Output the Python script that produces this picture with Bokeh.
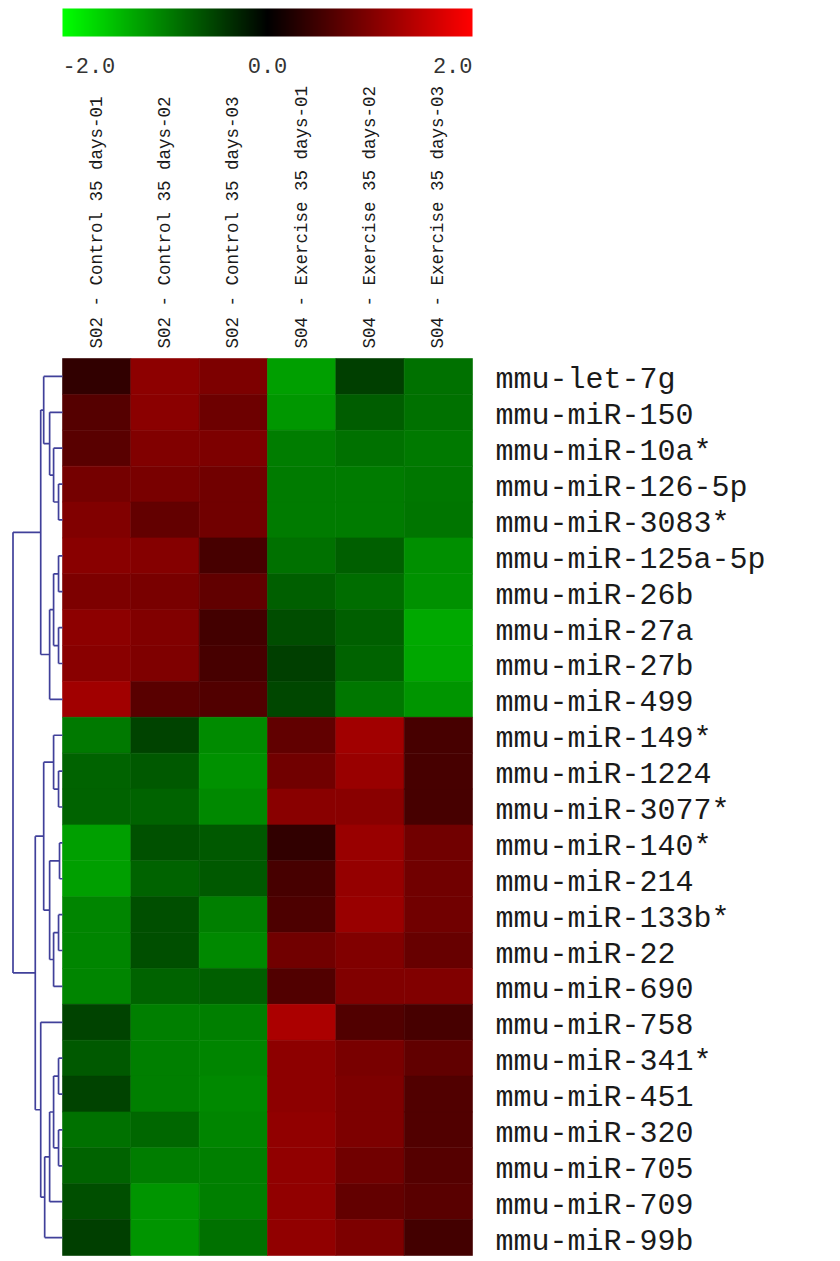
import numpy as np
from bokeh.plotting import figure
from bokeh.models import Range1d, LinearColorMapper, ColumnDataSource
from bokeh.transform import transform
from bokeh.core.properties import value
from bokeh.embed import file_html
from bokeh.resources import INLINE

# ---------------- data ----------------
samples = ["S02 - Control 35 days-01", "S02 - Control 35 days-02", "S02 - Control 35 days-03",
           "S04 - Exercise 35 days-01", "S04 - Exercise 35 days-02", "S04 - Exercise 35 days-03"]

mirnas = ["mmu-let-7g", "mmu-miR-150", "mmu-miR-10a*", "mmu-miR-126-5p", "mmu-miR-3083*",
          "mmu-miR-125a-5p", "mmu-miR-26b", "mmu-miR-27a", "mmu-miR-27b", "mmu-miR-499",
          "mmu-miR-149*", "mmu-miR-1224", "mmu-miR-3077*", "mmu-miR-140*", "mmu-miR-214",
          "mmu-miR-133b*", "mmu-miR-22", "mmu-miR-690", "mmu-miR-758", "mmu-miR-341*",
          "mmu-miR-451", "mmu-miR-320", "mmu-miR-705", "mmu-miR-709", "mmu-miR-99b"]

control_01 = [0.38, 0.67, 0.70, 0.91, 1.00, 1.07, 0.97, 1.10, 1.07, 1.25,
              -0.94, -0.78, -0.78, -1.25, -1.25, -1.04, -1.04, -1.04, -0.53, -0.69,
              -0.53, -0.88, -0.78, -0.61, -0.50]
control_02 = [1.10, 1.08, 1.00, 0.94, 0.78, 1.04, 0.94, 1.00, 0.99, 0.69,
              -0.53, -0.69, -0.78, -0.63, -0.78, -0.61, -0.61, -0.78, -1.00, -1.00,
              -1.00, -0.81, -0.97, -1.16, -1.16]
control_03 = [0.97, 0.85, 0.97, 0.88, 0.89, 0.56, 0.75, 0.53, 0.55, 0.63,
              -1.08, -1.13, -1.07, -0.69, -0.69, -1.00, -1.07, -0.75, -1.00, -1.04,
              -1.07, -1.04, -1.00, -1.00, -0.88]
exercise_01 = [-1.25, -1.18, -0.97, -0.96, -0.96, -0.88, -0.75, -0.60, -0.49, -0.56,
               0.75, 0.88, 1.07, 0.38, 0.56, 0.60, 0.89, 0.63, 1.33, 1.10,
               1.10, 1.13, 1.13, 1.13, 1.13]
exercise_02 = [-0.50, -0.72, -0.88, -0.96, -0.96, -0.74, -0.85, -0.75, -0.78, -0.93,
               1.25, 1.19, 1.07, 1.19, 1.16, 1.19, 1.00, 1.00, 0.64, 0.94,
               0.97, 0.97, 0.89, 0.78, 0.97]
exercise_03 = [-0.88, -0.88, -0.94, -0.93, -0.91, -1.11, -1.13, -1.32, -1.30, -1.16,
               0.56, 0.55, 0.55, 0.88, 0.88, 0.88, 0.81, 1.00, 0.56, 0.75,
               0.63, 0.63, 0.66, 0.70, 0.52]

# row dendrogram: (child_a, child_b, relative height); leaves 0..24, new nodes from 25
linkage = [(3, 4, 0.08), (2, 25, 0.18), (1, 26, 0.26), (0, 27, 0.38),
           (5, 6, 0.08), (7, 8, 0.08), (29, 30, 0.18), (31, 9, 0.26), (28, 32, 0.44),
           (11, 12, 0.08), (10, 34, 0.18), (13, 14, 0.06), (15, 16, 0.08), (37, 17, 0.18),
           (36, 38, 0.26), (35, 39, 0.38),
           (19, 20, 0.08), (21, 22, 0.08), (41, 42, 0.18), (43, 23, 0.26), (44, 24, 0.36),
           (18, 45, 0.44), (40, 46, 0.55), (33, 47, 1.0)]

scale_ticks = [-2.0, 0.0, 2.0]
scale_labels = ["-2.0", "0.0", "2.0"]

# ---------------- layout constants ----------------
W, H = 840, 1261
CELL_W = 410.0 / 6
CELL_H = 897.0 / 25
LEFT_PX, TOP_PX = 62.0, 358.0
DEND_W = 49.5 / CELL_W
MONO = value("Liberation Mono")

def px_y(py):
    return (py - TOP_PX) / CELL_H

p = figure(width=W, height=H, output_backend="svg", toolbar_location=None,
           x_range=Range1d(-LEFT_PX / CELL_W, (W - LEFT_PX) / CELL_W),
           y_range=Range1d((H - TOP_PX) / CELL_H, -TOP_PX / CELL_H),
           min_border=0, outline_line_color=None, background_fill_color="white")
p.axis.visible = False
p.grid.visible = False

# palette green -> black -> red
pal = []
for i in range(256):
    t = i / 255.0
    if t < 0.5:
        g = int(round(255 * (1 - t / 0.5)))
        pal.append("#%02x%02x%02x" % (0, g, 0))
    else:
        r = int(round(255 * ((t - 0.5) / 0.5)))
        pal.append("#%02x%02x%02x" % (r, 0, 0))
mapper = LinearColorMapper(palette=pal, low=-2.0, high=2.0)

# heatmap
cols = [control_01, control_02, control_03, exercise_01, exercise_02, exercise_03]
xs, ys, vs = [], [], []
for ci, col in enumerate(cols):
    for ri, v in enumerate(col):
        xs.append(ci + 0.5)
        ys.append(ri + 0.5)
        vs.append(v)
src = ColumnDataSource(dict(x=xs, y=ys, v=vs))
p.rect(x="x", y="y", width=1, height=1, source=src,
       fill_color=transform("v", mapper), line_color=transform("v", mapper), line_width=0.6)

# dendrogram
pos_y = {i: i + 0.5 for i in range(len(mirnas))}
pos_h = {i: 0.0 for i in range(len(mirnas))}
x0s, y0s, x1s, y1s = [], [], [], []
nid = len(mirnas)
for a, b, h in linkage:
    xa, xb, xm = -pos_h[a] * DEND_W, -pos_h[b] * DEND_W, -h * DEND_W
    ya, yb = pos_y[a], pos_y[b]
    x0s += [xm, xa, xb]
    y0s += [ya, ya, yb]
    x1s += [xm, xm, xm]
    y1s += [yb, ya, yb]
    pos_y[nid] = (ya + yb) / 2
    pos_h[nid] = h
    nid += 1
p.segment(x0=x0s, y0=y0s, x1=x1s, y1=y1s, line_color="#40409a", line_width=1.7)

# row labels
p.text(x=[(495 - LEFT_PX) / CELL_W] * len(mirnas), y=[i + 0.5 + 4 / CELL_H for i in range(len(mirnas))],
       text=mirnas, text_font=MONO, text_font_size="30px", text_color="#1a1a1a",
       text_baseline="middle", text_align="left")

# column labels (rotated)
p.text(x=[i + 0.5 for i in range(len(samples))], y=[px_y(348)] * len(samples),
       text=samples, angle=np.pi / 2, text_font=MONO, text_font_size="17.5px",
       text_color="#1a1a1a", text_baseline="middle", text_align="left")

# colour scale bar
grad = np.linspace(mapper.low, mapper.high, 512).reshape(1, -1)
p.image(image=[grad], x=0, y=px_y(8), dw=6, dh=px_y(36) - px_y(8), color_mapper=mapper)
tick_x = [(t - mapper.low) / (mapper.high - mapper.low) * 6 for t in scale_ticks]
p.text(x=tick_x, y=[px_y(65)] * 3, text=scale_labels, text_font=MONO, text_font_size="22px",
       text_color="#333333", text_baseline="alphabetic", text_align=["left", "center", "right"])

open("out.html", "w").write(file_html(p, INLINE))
